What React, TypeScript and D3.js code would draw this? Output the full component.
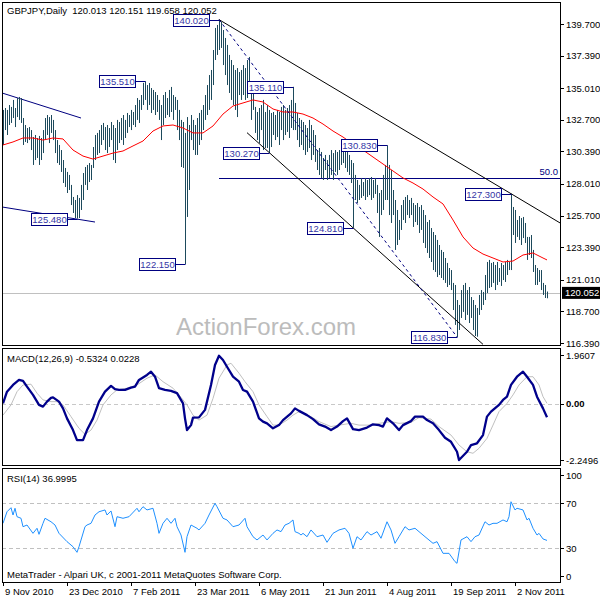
import React from "react";
import * as d3 from "d3";

const symbol = "GBPJPY";
const period = "Daily";
const lastOHLC = ["120.013", "120.151", "119.658", "120.052"];
const lastClose = 120.052;

const highs = [
  133.42,133.56,133.42,133.78,133.64,134.15,133.56,134.29,134.37,134.29,
  132.83,132.32,132.10,132.17,131.95,131.44,131.59,131.37,131.52,131.37,
  131.95,132.83,133.05,132.90,133.05,132.69,131.95,131.22,130.86,130.49,
  129.76,129.18,128.89,128.67,127.94,127.06,126.84,127.20,126.99,127.94,
  128.81,129.25,129.40,129.54,129.40,130.71,131.59,131.74,131.95,132.32,
  132.47,132.17,132.32,132.10,132.54,132.32,132.10,132.69,132.54,132.83,
  133.05,132.69,133.20,133.05,133.42,133.27,133.78,134.29,134.15,134.51,
  135.40,135.51,135.24,135.39,135.02,134.88,134.73,134.51,134.15,133.78,
  134.51,134.73,134.29,134.88,135.10,134.51,134.37,134.15,133.42,132.69,
  132.54,131.74,132.90,132.32,133.05,132.69,132.32,132.83,133.20,133.42,
  133.78,134.51,135.24,135.97,136.34,137.80,139.41,139.63,140.02,139.85,
  139.26,138.68,138.17,137.44,137.07,136.70,136.34,136.48,136.19,136.34,
  136.70,136.48,137.07,137.29,135.39,134.88,133.64,133.27,133.56,133.78,
  134.15,133.27,133.78,133.42,133.20,133.27,133.05,133.42,133.27,133.64,
  133.78,133.42,133.56,133.78,134.15,135.11,133.93,133.20,132.83,132.69,
  132.54,132.32,132.10,132.69,132.32,131.95,131.59,130.49,130.64,130.35,
  129.91,130.13,129.76,130.13,130.49,130.27,130.49,130.35,130.49,130.64,
  130.49,130.86,130.49,130.13,129.76,129.54,128.67,128.30,127.94,128.45,
  128.15,128.45,128.30,128.45,128.52,128.30,128.45,127.94,127.35,127.57,
  128.67,129.40,130.83,129.40,129.03,127.57,126.84,126.11,125.38,126.47,
  126.84,127.06,127.20,126.84,126.99,126.62,126.47,126.62,126.33,126.47,
  126.11,125.74,125.23,125.38,124.79,124.50,124.28,123.92,123.55,123.19,
  123.04,122.60,122.24,121.87,121.72,120.78,120.63,119.53,119.17,120.26,
  120.63,120.78,120.26,120.48,119.75,119.53,119.17,118.95,119.90,120.26,
  120.12,121.36,122.31,122.46,122.24,122.31,122.09,122.31,121.87,122.24,
  122.09,122.31,122.46,122.31,127.30,126.33,126.11,125.38,125.67,125.52,
  125.60,125.16,124.14,124.14,124.28,123.19,122.09,121.87,121.72,121.72,
  120.78,120.63,120.151
];

const lows = [
  130.86,131.95,131.59,132.32,132.47,132.83,132.17,132.90,132.69,132.47,
  130.86,131.08,131.00,131.22,130.49,129.40,129.76,129.91,129.40,129.76,
  130.27,131.22,131.59,131.00,131.74,131.22,130.27,129.54,129.40,128.89,
  128.08,127.79,127.35,127.57,126.47,125.89,125.52,125.48,125.52,126.11,
  126.84,127.94,127.57,128.15,128.30,129.18,129.76,130.13,130.27,130.86,
  131.22,130.49,130.27,130.71,131.22,129.76,129.54,130.49,131.00,131.22,
  130.86,131.37,131.74,132.17,131.95,132.32,132.17,132.69,132.47,133.42,
  133.78,134.15,133.42,133.78,133.20,133.42,133.05,133.27,132.69,131.22,
  132.32,132.83,133.05,132.90,133.27,132.69,133.42,131.95,131.22,129.25,
  129.18,122.15,125.60,127.57,131.22,130.49,130.13,130.13,130.86,131.22,
  131.95,132.69,133.05,133.42,134.15,135.24,137.07,137.44,137.80,137.95,
  136.70,135.97,135.24,134.66,134.15,133.78,133.42,132.90,134.51,134.15,
  134.51,134.15,134.29,134.88,132.69,133.42,131.74,131.22,131.00,131.95,
  130.49,130.64,130.64,130.27,130.71,131.59,131.22,131.44,130.86,131.95,
  131.22,131.59,131.81,131.37,132.10,131.95,131.95,131.22,130.71,130.86,
  130.49,130.13,130.35,130.64,129.76,130.13,129.62,129.03,128.67,128.45,
  128.30,129.03,128.30,128.45,128.67,128.30,128.89,128.67,129.03,129.40,
  129.54,129.18,128.89,128.67,128.08,124.81,126.84,126.62,126.84,126.99,
  127.13,126.84,127.06,127.20,126.84,126.99,127.28,125.89,124.14,125.74,
  126.11,126.84,126.84,125.74,125.16,125.74,123.19,123.55,123.92,124.65,
  125.38,125.16,125.74,125.52,125.74,124.87,125.23,125.01,124.43,124.65,
  123.70,123.33,122.97,122.60,122.31,121.72,121.58,121.21,121.36,121.14,
  120.99,120.78,120.48,120.63,120.26,118.80,117.71,116.83,117.34,118.22,
  118.66,118.07,118.44,117.85,118.22,117.34,116.90,116.85,118.44,118.80,
  119.17,119.53,120.04,120.41,120.48,120.78,120.26,120.63,120.85,120.56,
  120.99,120.85,121.36,121.72,121.72,124.28,123.70,124.14,123.92,123.55,
  124.06,123.70,122.46,122.82,122.60,121.58,120.63,120.63,120.85,120.26,
  119.90,119.68,119.658
];

const maBars = [0,5,10,15,20,25,30,35,40,45,50,55,60,65,70,75,80,85,90,95,100,105,110,115,120,125,130,135,140,145,150,155,160,165,170,175,180,185,190,195,200,205,210,215,220,225,230,235,240,245,250,255,260,265,270,272];
const maValues = [
  130.86,131.08,131.37,131.37,131.22,131.37,131.30,130.49,130.05,129.83,
  130.05,130.27,130.42,130.79,131.15,131.88,132.25,132.32,132.10,131.74,
  131.74,132.25,133.12,133.71,133.93,134.15,134.00,133.49,133.27,133.27,
  133.12,132.83,132.39,131.88,131.44,130.93,130.49,129.98,129.47,128.96,
  128.45,128.08,127.64,127.06,126.55,125.38,124.14,123.33,122.89,122.60,
  122.31,122.38,122.82,122.97,122.60,122.46
];

const macdBars = [0,2,5,8,10,12,15,18,20,22,24,25,28,30,32,35,37,40,42,45,48,51,54,56,58,61,64,66,68,72,74,76,78,81,84,87,90,91,92,94,95,98,101,104,106,108,110,112,115,118,120,122,125,128,130,132,135,138,140,144,146,148,152,155,158,161,164,167,170,172,175,178,182,185,188,190,192,195,198,200,204,206,210,212,215,218,221,224,227,228,232,234,237,240,242,244,248,250,252,254,257,260,262,265,267,270,272];
const macdValues = [0.02,0.49,0.76,0.96,0.92,0.69,0.36,-0.04,-0.11,0.09,0.24,0.26,0.09,-0.18,-0.58,-1.05,-1.45,-1.45,-1.05,-0.58,0.09,0.49,0.72,0.59,0.56,0.56,0.65,0.69,0.96,1.16,1.29,1.09,0.63,0.56,0.52,0.43,0.02,-0.58,-1.05,-0.85,-0.55,-0.54,-0.24,0.76,1.56,1.93,1.76,1.49,1.09,0.89,0.56,0.49,0.09,-0.58,-0.71,-0.78,-0.98,-0.85,-0.65,-0.38,-0.18,-0.28,-0.45,-0.61,-0.82,-0.91,-1.05,-0.91,-0.69,-0.58,-1.01,-1.05,-0.95,-0.82,-0.85,-0.91,-0.58,-0.78,-1.05,-0.85,-0.69,-0.51,-0.51,-0.65,-0.78,-1.05,-1.36,-1.52,-1.92,-2.25,-1.92,-1.65,-1.58,-1.25,-0.51,-0.31,-0.04,0.16,0.29,0.76,1.09,1.29,1.09,0.76,0.29,-0.18,-0.5324];

const signalBars = [0,4,7,10,14,17,20,24,27,30,34,38,41,44,47,50,54,57,62,67,72,76,80,85,88,92,95,98,102,105,108,112,114,118,121,125,128,132,135,138,142,145,148,154,158,164,168,174,178,184,188,194,198,204,208,214,218,224,228,232,235,238,242,245,248,252,255,258,262,265,268,270,272];
const signalValues = [-0.45,-0.04,0.49,0.76,0.79,0.43,0.16,0.09,0.09,-0.04,-0.51,-0.98,-1.22,-1.05,-0.65,-0.04,0.36,0.56,0.63,0.76,1.03,1.16,0.89,0.63,0.36,-0.04,-0.45,-0.65,-0.45,0.22,1.03,1.56,1.63,1.23,0.89,0.49,-0.04,-0.51,-0.85,-0.85,-0.65,-0.45,-0.31,-0.51,-0.71,-0.91,-0.85,-0.78,-0.85,-0.85,-0.78,-0.71,-0.78,-0.74,-0.55,-0.61,-0.91,-1.25,-1.65,-1.92,-1.98,-1.78,-1.38,-0.85,-0.31,0.02,0.36,0.76,1.09,1.09,0.76,0.29,0.0228];

const rsiBars = [0,2,4,5,6,7,9,10,12,15,17,18,20,21,24,26,28,32,35,37,38,41,42,44,46,48,51,52,54,56,57,60,63,67,68,70,72,75,77,78,80,82,84,86,87,89,91,92,94,97,98,101,103,106,107,110,112,115,118,121,122,125,127,130,132,135,137,139,141,143,145,146,148,149,150,152,154,157,160,162,165,168,171,173,175,177,179,182,184,187,189,192,194,196,198,201,203,206,208,211,215,217,220,223,226,227,229,232,234,236,238,241,243,245,247,250,252,253,254,256,257,260,262,263,265,267,268,270,272];
const rsiValues = [52.2,62.5,66.1,59.6,65.6,58.1,56.7,49.2,50.7,43.3,47.8,42.4,52.2,56.7,53.6,50.7,43.3,35.9,31.4,26.4,31.4,49.2,50.7,52.2,59.6,62.5,64.1,59.6,63.2,49.2,58.1,56.7,58.1,65.6,62.5,67.0,64.1,65.6,52.2,43.3,52.2,56.7,52.2,56.7,49.2,41.8,26.4,40.3,50.7,47.8,46.3,52.2,59.6,70.0,67.0,56.7,55.2,49.2,50.7,56.7,49.2,40.3,37.4,41.8,37.4,43.3,46.3,44.8,50.7,52.2,55.2,44.8,43.3,41.8,43.3,40.3,46.3,40.3,41.8,35.3,43.3,46.3,47.8,43.3,30.0,40.3,37.4,44.8,41.8,44.8,38.9,53.6,46.3,34.4,40.3,49.2,46.3,47.8,44.8,40.3,34.4,35.9,25.5,25.5,18.1,16.6,37.4,40.3,35.9,40.3,41.8,53.6,50.7,52.2,52.2,55.2,53.6,58.1,71.4,64.1,65.6,64.1,55.2,56.7,47.8,41.8,43.3,38.3,36.9995];

const priceTicks = [139.7, 137.39, 135.01, 132.7, 130.39, 128.01, 125.7, 123.39, 121.01, 118.7, 116.39];
const macdTicks = [1.9607, 0, -2.2496];
const rsiTicks = [100, 70, 30, 0];
const rsiLevels = [70, 30];
const dateBars = [0, 32, 64, 96, 128, 160, 192, 224, 256];
const dateLabels = ["9 Nov 2010", "23 Dec 2010", "7 Feb 2011", "23 Mar 2011", "6 May 2011", "21 Jun 2011", "4 Aug 2011", "19 Sep 2011", "2 Nov 2011"];

const labelBars = [108, 71, 145, 133, 37, 91, 192, 175, 254, 227];
const labelPrices = [140.02, 135.51, 135.11, 130.27, 125.48, 122.15, 130.83, 124.81, 127.3, 116.83];

const upperChannelBars = [108, 254];
const upperChannelPrices = [140.02, 127.3];
const lowerChannelBars = [122, 240];
const lowerChannelPrices = [131.76, 116.29];
const dashedBars = [108, 227];
const dashedPrices = [140.02, 116.83];
const leftUpperBars = [-0.5, 39];
const leftUpperPrices = [134.66, 132.83];
const leftLowerBars = [-0.5, 46];
const leftLowerPrices = [126.33, 125.23];
const fibStartBar = 108;
const fibPrice = 128.425;
const fibLabel = "50.0";

const macdName = "MACD(12,26,9)";
const macdShown = ["-0.5324", "0.0228"];
const rsiName = "RSI(14)";
const rsiShown = "36.9995";
const footer = "MetaTrader - Alpari UK, c 2001-2011 MetaQuotes Software Corp.";
const watermark = "ActionForex.com";

const FONT = "'Liberation Sans', Arial, sans-serif";
const FS = 9.5;

export default function App() {
  const left = 2, right = 560;
  const main = { top: 2, bottom: 345 };
  const macdP = { top: 348, bottom: 465 };
  const rsiP = { top: 468, bottom: 582 };

  const x = d3.scaleLinear().domain([0, 272]).range([3, 547]);
  const y = d3.scaleLinear().domain([116.39, 139.7]).range([343, 24]);
  const ym = d3.scaleLinear().domain([-2.2496, 1.9607]).range([460, 355]);
  const yr = d3.scaleLinear().domain([0, 100]).range([582, 469.6]);

  const priceLine = d3.line<[number, number]>().x(d => x(d[0])).y(d => y(d[1]));
  const macdLine = d3.line<[number, number]>().x(d => x(d[0])).y(d => ym(d[1]));
  const rsiLine = d3.line<[number, number]>().x(d => x(d[0])).y(d => yr(d[1]));

  const zip = (a: number[], b: number[]) => a.map((v, i) => [v, b[i]] as [number, number]);

  const rightBar = x.invert(right);
  const extend = (bars: number[], prices: number[], toBar: number): [number, number][] => {
    const slope = (prices[1] - prices[0]) / (bars[1] - bars[0]);
    return [[bars[0], prices[0]], [toBar, prices[0] + slope * (toBar - bars[0])]];
  };

  const clampLabel = (v: number, top: number, bottom: number) => Math.max(top + 7, Math.min(bottom - 6, v));

  return (
    <svg width={600} height={600} style={{ position: "absolute", left: 0, top: 0, background: "#fff" }} fontFamily={FONT}>
      <defs>
        <clipPath id="clipMain"><rect x={left} y={main.top} width={right - left} height={main.bottom - main.top} /></clipPath>
        <clipPath id="clipMacd"><rect x={left} y={macdP.top} width={right - left} height={macdP.bottom - macdP.top} /></clipPath>
        <clipPath id="clipRsi"><rect x={left} y={rsiP.top} width={right - left} height={rsiP.bottom - rsiP.top} /></clipPath>
      </defs>
      <rect x={0} y={0} width={600} height={600} fill="#fff" />

      {/* main panel */}
      <g clipPath="url(#clipMain)">
        <text x={176} y={335} fontSize={24} fill="#bcbcbc">{watermark}</text>
        <line x1={left} x2={right} y1={Math.round(y(lastClose)) + 0.5} y2={Math.round(y(lastClose)) + 0.5} stroke="#c0c0c0" />
        <path d={priceLine(zip(leftUpperBars, leftUpperPrices)) || ""} stroke="#000080" fill="none" strokeWidth={1} />
        <path d={priceLine(zip(leftLowerBars, leftLowerPrices)) || ""} stroke="#000080" fill="none" strokeWidth={1} />
        <line x1={x(fibStartBar)} x2={right} y1={Math.round(y(fibPrice)) + 0.5} y2={Math.round(y(fibPrice)) + 0.5} stroke="#000080" />
        <g>
          {highs.map((h, i) => (
            <line key={i} x1={Math.round(x(i)) + 0.5} x2={Math.round(x(i)) + 0.5} y1={y(h)} y2={y(lows[i])} stroke="#1d4a5c" strokeWidth={1} />
          ))}
        </g>
        <path d={priceLine(zip(maBars, maValues)) || ""} stroke="#ff0000" fill="none" strokeWidth={1} />
        <path d={priceLine(extend(upperChannelBars, upperChannelPrices, rightBar + 2)) || ""} stroke="#000" fill="none" strokeWidth={1} />
        <path d={priceLine(zip(lowerChannelBars, lowerChannelPrices)) || ""} stroke="#000" fill="none" strokeWidth={1} />
        <path d={priceLine(zip(dashedBars, dashedPrices)) || ""} stroke="#000080" fill="none" strokeWidth={1} strokeDasharray="3,3" />
        <text x={right - 2} y={y(fibPrice) - 3} fontSize={FS} fill="#000080" textAnchor="end">{fibLabel}</text>
        {labelBars.map((b, i) => {
          const px = Math.round(x(b)) + 0.5;
          const py = Math.round(y(labelPrices[i])) + 0.5;
          const bx = px - 10 - 36;
          return (
            <g key={i}>
              <line x1={bx + 36} x2={px} y1={py} y2={py} stroke="#000080" />
              <rect x={bx} y={py - 6} width={36} height={12} fill="#fff" stroke="#000080" strokeWidth={1} />
              <text x={bx + 18} y={py + 3.5} fontSize={FS} fill="#3535a5" textAnchor="middle">{labelPrices[i].toFixed(3)}</text>
            </g>
          );
        })}
      </g>
      <text x={7} y={14} fontSize={FS} fill="#000" style={{ whiteSpace: "pre" }}>{`${symbol},${period}\u00a0\u00a0${lastOHLC.join(" ")}`}</text>

      {/* macd panel */}
      <g clipPath="url(#clipMacd)">
        <line x1={left} x2={right} y1={Math.round(ym(0)) + 0.5} y2={Math.round(ym(0)) + 0.5} stroke="#c8c8c8" strokeDasharray="4,3" />
        <path d={macdLine(zip(signalBars, signalValues)) || ""} stroke="#c0c0c0" fill="none" strokeWidth={1} />
        <path d={macdLine(zip(macdBars, macdValues)) || ""} stroke="#00008b" fill="none" strokeWidth={2.3} strokeLinejoin="round" />
      </g>
      <text x={7} y={362} fontSize={FS} fill="#000">{`${macdName} ${macdShown.join(" ")}`}</text>

      {/* rsi panel */}
      <g clipPath="url(#clipRsi)">
        {rsiLevels.map(l => (
          <line key={l} x1={left} x2={right} y1={Math.round(yr(l)) + 0.5} y2={Math.round(yr(l)) + 0.5} stroke="#c0c0c0" strokeDasharray="4,3" />
        ))}
        <path d={rsiLine(zip(rsiBars, rsiValues)) || ""} stroke="#1e90ff" fill="none" strokeWidth={1} />
      </g>
      <text x={7} y={482} fontSize={FS} fill="#000">{`${rsiName} ${rsiShown}`}</text>
      <text x={7} y={578} fontSize={FS} fill="#000">{footer}</text>

      {/* frames */}
      <g stroke="#000" fill="none" shapeRendering="crispEdges">
        <rect x={left + 0.5} y={main.top + 0.5} width={right - left} height={main.bottom - main.top} />
        <rect x={left + 0.5} y={macdP.top + 0.5} width={right - left} height={macdP.bottom - macdP.top} />
        <rect x={left + 0.5} y={rsiP.top + 0.5} width={right - left} height={rsiP.bottom - rsiP.top} />
      </g>

      {/* price axis */}
      {priceTicks.map(t => (
        <g key={t}>
          <line x1={right} x2={right + 4} y1={Math.round(y(t)) + 0.5} y2={Math.round(y(t)) + 0.5} stroke="#000" />
          <text x={right + 6} y={y(t) + 3.5} fontSize={FS} fill="#000">{t.toFixed(3)}</text>
        </g>
      ))}
      <rect x={right + 2} y={y(lastClose) - 6} width={38} height={12} fill="#000" />
      <text x={right + 5} y={y(lastClose) + 3.5} fontSize={FS} fill="#fff">{lastClose.toFixed(3)}</text>

      {/* macd axis */}
      {macdTicks.map(t => (
        <g key={t}>
          <line x1={right} x2={right + 4} y1={Math.round(ym(t)) + 0.5} y2={Math.round(ym(t)) + 0.5} stroke="#000" />
          <text x={right + 6} y={ym(t) + 3.5} fontSize={FS} fill="#000" fontWeight={t === 0 ? "bold" : "normal"}>{t === 0 ? "0.00" : t.toFixed(4)}</text>
        </g>
      ))}

      {/* rsi axis */}
      {rsiTicks.map(t => {
        const ty = clampLabel(yr(t), rsiP.top, rsiP.bottom);
        return (
          <g key={t}>
            <line x1={right} x2={right + 4} y1={Math.round(ty) + 0.5} y2={Math.round(ty) + 0.5} stroke="#000" />
            <text x={right + 6} y={ty + 3.5} fontSize={FS} fill="#000">{String(t)}</text>
          </g>
        );
      })}

      {/* date axis */}
      {dateBars.map((b, i) => (
        <g key={b}>
          <line x1={Math.round(x(b)) + 0.5} x2={Math.round(x(b)) + 0.5} y1={rsiP.bottom} y2={rsiP.bottom + 4} stroke="#000" />
          <text x={x(b) + 2} y={595} fontSize={FS} fill="#000">{dateLabels[i]}</text>
        </g>
      ))}
    </svg>
  );
}
